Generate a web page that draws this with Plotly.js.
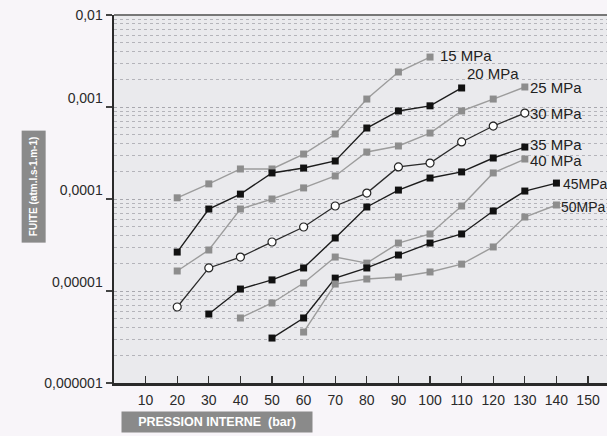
<!DOCTYPE html>
<html>
<head>
<meta charset="utf-8">
<script src="https://cdn.plot.ly/plotly-3.0.1.min.js"></script>
<style>html,body{margin:0;padding:0;background:#f8f5f9;}#chart{width:607px;height:436px;}</style>
</head>
<body>
<div id="chart"></div>
<script>
// Pressure (bar) for each series
const x15 = [20,30,40,50,60,70,80,90,100];
const y15 = [1.03e-4,1.46e-4,2.12e-4,2.12e-4,3.08e-4,5.09e-4,1.22e-3,2.40e-3,3.49e-3];
const x20 = [20,30,40,50,60,70,80,90,100,110];
const y20 = [2.65e-5,7.78e-5,1.13e-4,1.92e-4,2.17e-4,2.59e-4,5.91e-4,9.05e-4,1.03e-3,1.61e-3];
const x25 = [20,30,40,50,60,70,80,90,100,110,120,130];
const y25 = [1.65e-5,2.79e-5,7.78e-5,1.0e-4,1.32e-4,1.78e-4,3.24e-4,3.77e-4,5.21e-4,9.05e-4,1.22e-3,1.65e-3];
const x30 = [20,30,40,50,60,70,80,90,100,110,120,130];
const y30 = [6.7e-6,1.78e-5,2.34e-5,3.41e-5,4.96e-5,8.39e-5,1.16e-4,2.23e-4,2.46e-4,4.17e-4,6.21e-4,8.6e-4];
const x35 = [30,40,50,60,70,80,90,100,110,120,130];
const y35 = [5.62e-6,1.05e-5,1.32e-5,1.78e-5,3.77e-5,8.19e-5,1.25e-4,1.69e-4,1.97e-4,2.79e-4,3.67e-4];
const x40 = [40,50,60,70,80,90,100,110,120,130];
const y40 = [5.09e-6,7.41e-6,1.22e-5,2.34e-5,2.01e-5,3.32e-5,4.17e-5,8.39e-5,1.92e-4,2.72e-4];
const x45 = [50,60,70,80,90,100,110,120,130,140];
const y45 = [3.08e-6,5.09e-6,1.38e-5,1.78e-5,2.46e-5,3.32e-5,4.17e-5,7.41e-5,1.22e-4,1.49e-4];
const x50 = [60,70,80,90,100,110,120,130,140];
const y50 = [3.58e-6,1.19e-5,1.35e-5,1.42e-5,1.61e-5,1.96e-5,3.01e-5,6.37e-5,8.61e-5];

const seriesNames = ['15 MPa','20 MPa','25 MPa','30 MPa','35 MPa','40 MPa','45MPa','50MPa'];
const xTicks = [10,20,30,40,50,60,70,80,90,100,110,120,130,140,150];
const yTickVals = [1e-6,1e-5,1e-4,1e-3,1e-2];
const yTickText = ['0,000001','0,00001<br> ','0,0001<br> ','0,001<br> ','0,01'];

const xs = [x15,x20,x25,x30,x35,x40,x45,x50];
const ys = [y15,y20,y25,y30,y35,y40,y45,y50];
const kinds = ['gray','black','gray','circle','black','gray','black','gray'];
// label offsets in pixels relative to last point, and label font size
const lblShift = [[8,2],[3,14],[3,-1],[3,0],[3,3],[3,-1],[5,-1],[3,-2]];
const lblSize = [15,15,15,15,15,15,14,14];

const traces = xs.map((xv,i)=>{
  const k = kinds[i];
  let line, marker;
  if(k==='gray'){ line={color:'#9c9c9c',width:1.4}; marker={symbol:'square',size:7,color:'#8d8d8d',line:{width:0}}; }
  else if(k==='black'){ line={color:'#1c1c1c',width:1.4}; marker={symbol:'square',size:7,color:'#111',line:{width:0}}; }
  else { line={color:'#2a2a2a',width:1.3}; marker={symbol:'circle',size:8,color:'#fff',line:{width:1.2,color:'#222'}}; }
  return {x:xv,y:ys[i],type:'scatter',mode:'lines+markers',name:seriesNames[i],line:line,marker:marker,showlegend:false,hoverinfo:'skip'};
});

const minorVals = [];
for(let e=-6;e<=-3;e++){ for(let m=2;m<=9;m++){ minorVals.push(m*Math.pow(10,e)); } }

const annotations = xs.map((xv,i)=>({
  x: xv[xv.length-1], y: Math.log10(ys[i][ys[i].length-1]), xref:'x', yref:'y',
  text: seriesNames[i], showarrow:false, xanchor:'left', yanchor:'middle',
  xshift: lblShift[i][0], yshift: lblShift[i][1],
  font:{family:'Liberation Sans, Arial, sans-serif', size:lblSize[i], color:'#222'}
}));
annotations.push({
  x:-0.163, y:0.534, xref:'paper', yref:'paper', text:'<b>FUITE (atm.l.s-1.m-1)</b>', textangle:-90,
  showarrow:false, bgcolor:'#8a8a8a', font:{family:'Liberation Sans, Arial, sans-serif', size:10, color:'#fff'},
  borderpad:6, xanchor:'center', yanchor:'middle'
});
annotations.push({
  x:0.209, y:-0.106, xref:'paper', yref:'paper', text:'<b>PRESSION INTERNE  (bar)</b>',
  showarrow:false, bgcolor:'#8a8a8a', font:{family:'Liberation Sans, Arial, sans-serif', size:12.5, color:'#fff'},
  borderpad:3, xanchor:'center', yanchor:'middle', width:184, height:14
});

const layout = {
  width:607, height:436,
  margin:{l:114,r:0,t:15,b:53},
  paper_bgcolor:'#f8f5f9', plot_bgcolor:'#eaeaed',
  font:{family:'Liberation Sans, Arial, sans-serif', size:14, color:'#222'},
  xaxis:{range:[0,156], tickvals:xTicks, ticktext:xTicks.map(String), ticks:'inside', ticklen:7, tickwidth:1.2, tickcolor:'#333',
    showline:true, linecolor:'#2a2a2a', linewidth:2.5, showgrid:false, zeroline:false, fixedrange:true, ticklabelstandoff:3,
    tickfont:{size:14,color:'#2a2a2a'}},
  yaxis:{type:'log', range:[-6,-2], tickvals:yTickVals, ticktext:yTickText, ticks:'outside', ticklen:6, tickwidth:1.2, tickcolor:'#444',
    showline:true, linecolor:'#2a2a2a', linewidth:2.5, showgrid:true, gridcolor:'#a8a8ae', griddash:'dot', gridwidth:1,
    zeroline:false, fixedrange:true, tickfont:{size:14,color:'#2a2a2a'},
    minor:{tickvals:minorVals, showgrid:true, gridcolor:'#b4b4ba', griddash:'dot', gridwidth:1, ticks:''}},
  shapes:[{type:'line', xref:'paper', yref:'paper', x0:0, x1:1, y0:1, y1:1, line:{color:'#777',width:2}}],
  annotations:annotations
};

Plotly.newPlot('chart', traces, layout, {displayModeBar:false, staticPlot:true});
</script>
</body>
</html>
